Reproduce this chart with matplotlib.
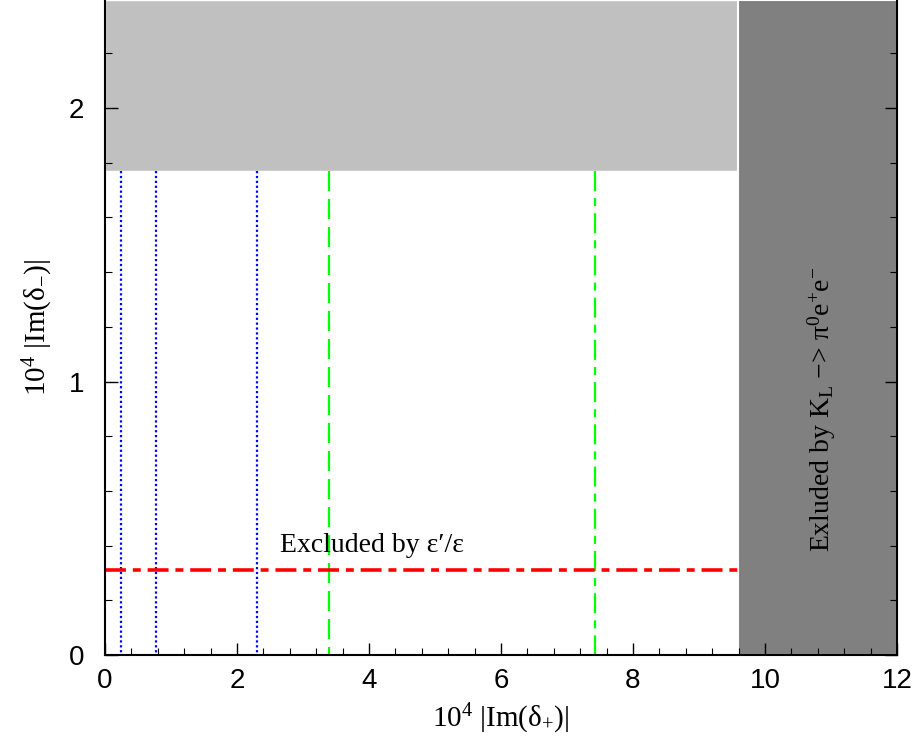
import matplotlib
matplotlib.use("Agg")
import matplotlib.pyplot as plt
from matplotlib.patches import Rectangle
from matplotlib.ticker import MultipleLocator

plt.rcParams["mathtext.fontset"] = "custom"
plt.rcParams["mathtext.rm"] = "Liberation Serif"
plt.rcParams["mathtext.it"] = "Liberation Serif:italic"

# Data (units of 10^-4)
xlim = (0, 12)
ylim = (0, 2.395)
eps_bound = 0.31            # |Im(delta_-)| excluded above by eps'/eps (red line)
klpee_bound = 9.59          # |Im(delta_+)| excluded above by K_L -> pi0 e+ e-
upper_excl_y = 1.77         # light-gray excluded region lower edge
blue_lines = [0.24, 0.77, 2.30]
green_dashed = [3.39]
green_dashdot = [7.42]
xticks = [0, 2, 4, 6, 8, 10, 12]
yticks = [0, 1, 2]

fig = plt.figure(figsize=(9.19, 7.42), dpi=100)
ax = fig.add_axes([105/919, 87/742, 792/919, 655/742])
ax.set_xlim(*xlim)
ax.set_ylim(*ylim)

# shaded regions
ax.add_patch(Rectangle((0, upper_excl_y), klpee_bound, ylim[1] - upper_excl_y,
                       facecolor="#c0c0c0", edgecolor="white", lw=1.0, zorder=1))
ax.add_patch(Rectangle((klpee_bound, 0), xlim[1] - klpee_bound, ylim[1],
                       facecolor="#808080", edgecolor="white", lw=1.5, zorder=1))

# vertical lines
for x in blue_lines:
    ax.plot([x, x], [upper_excl_y, 0], color="blue", lw=1.6, ls=(0, (1, 1.2)), zorder=2)
for x in green_dashed:
    ax.plot([x, x], [upper_excl_y, 0], color="#00ff00", lw=1.6,
            dashes=(9, 3.6), dash_capstyle="butt", zorder=2)
for x in green_dashdot:
    ax.plot([x, x], [upper_excl_y, 0], color="#00ff00", lw=1.6,
            dashes=(9, 3.2, 3.6, 3.2), dash_capstyle="butt", zorder=2)

# red eps'/eps bound
ax.plot([0, klpee_bound], [eps_bound, eps_bound], color="red", lw=2.6,
        dashes=(5.8, 1.9, 2.2, 1.9), dash_capstyle="butt", zorder=3)

serif = ["Liberation Serif", "DejaVu Serif"]
ax.text(2.65, eps_bound + 0.045, "Excluded by ε′/ε", family=serif, fontsize=20,
        ha="left", va="bottom", zorder=4)
ax.text(10.86, 0.9, r"Exluded by K$_{\rm L}$ −> π$^{0}$e$^{+}$e$^{-}$", family=serif,
        fontsize=20, rotation=90, ha="center", va="center", zorder=4)

ax.set_xlabel(r"10$^{4}$ |Im(δ$_{+}$)|", family=serif, fontsize=21, labelpad=6)
ax.set_ylabel(r"10$^{4}$ |Im(δ$_{-}$)|", family=serif, fontsize=21, labelpad=10)

ax.set_xticks(xticks)
ax.set_yticks(yticks)
ax.xaxis.set_minor_locator(MultipleLocator(0.4))
ax.yaxis.set_minor_locator(MultipleLocator(0.2))
ax.tick_params(which="both", direction="in", right=True, top=False,
               labelfontfamily="Liberation Sans", labelsize=20)
ax.tick_params(which="major", length=9, width=1)
ax.tick_params(which="minor", length=5, width=0.8)
ax.tick_params(axis="x", pad=9)
ax.tick_params(axis="y", pad=15)
ax.spines["top"].set_visible(False)
for s in ["left", "bottom", "right"]:
    ax.spines[s].set_linewidth(1.5)
    ax.spines[s].set_zorder(5)

fig.savefig("out.png", dpi=100)
